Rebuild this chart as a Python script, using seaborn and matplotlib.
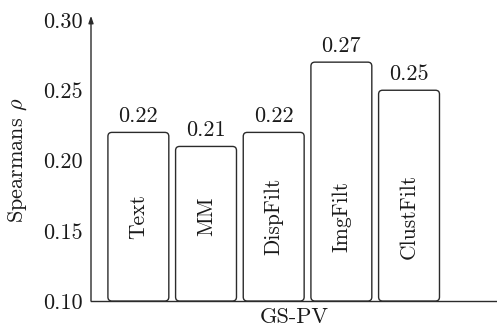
import matplotlib
matplotlib.use("Agg")
import matplotlib.pyplot as plt
from matplotlib.patches import FancyBboxPatch
import seaborn as sns
import pandas as pd

methods = ["Text", "MM", "DispFilt", "ImgFilt", "ClustFilt"]
spearman = [0.22, 0.21, 0.22, 0.27, 0.25]
group_label = "GS-PV"
y_ticks = [0.10, 0.15, 0.20, 0.25, 0.30]

sns.set_theme(style="white")
plt.rcParams["font.family"] = ["cmr10", "DejaVu Serif"]
plt.rcParams["mathtext.fontset"] = "cm"
plt.rcParams["axes.formatter.use_mathtext"] = True

df = pd.DataFrame({"method": methods, "rho": spearman})

W, H = 497, 327
fig = plt.figure(figsize=(W / 100, H / 100), dpi=100)
ax = fig.add_axes([91 / W, 26 / H, (497 - 91) / W, (301 - 20) / H])

sns.barplot(data=df, x="method", y="rho", ax=ax, color="white", width=0.9)

ax.set_xlim(-0.70, 5.30)
ax.set_ylim(0.10, 0.30)
base = 0.10
edge = "#2b2b2b"
ink = "#1a1a1a"

# swap the plain bars for rounded boxes that start at the axis floor
x_px_per_unit = (497 - 91) / 6.0
y_px_per_unit = (301 - 20) / 0.20
aspect = x_px_per_unit / y_px_per_unit
for patch, val in zip(list(ax.patches), spearman):
    x0 = patch.get_x()
    w = patch.get_width()
    patch.remove()
    box = FancyBboxPatch((x0, base), w, val - base,
                         boxstyle=f"round,pad=0,rounding_size={4 / x_px_per_unit}",
                         mutation_aspect=aspect,
                         facecolor="white", edgecolor=edge, linewidth=1.0,
                         clip_on=False, zorder=3)
    ax.add_patch(box)
    ax.text(x0 + w / 2, val + 0.0045, f"{val:.2f}", ha="center", va="bottom",
            fontsize=16, color=ink)

# category names written vertically inside the bars
for i, name in enumerate(methods):
    ax.text(i, 0.16, name, rotation=90, ha="center", va="center",
            fontsize=15.5, color=ink, zorder=4)

ax.set_xticks([])
ax.set_yticks(y_ticks)
ax.set_yticklabels([f"{t:.2f}" for t in y_ticks])
ax.tick_params(axis="y", length=0, pad=6, labelsize=16, colors=ink)
ax.set_xlabel(group_label, fontsize=16, color=ink, labelpad=5)
ax.set_ylabel(r"Spearmans $\rho$", fontsize=16, color=ink, labelpad=10)

for s in ["top", "right", "left"]:
    ax.spines[s].set_visible(False)
ax.spines["bottom"].set_color(edge)
ax.spines["bottom"].set_linewidth(1.0)

# y axis drawn as an arrow
ax.annotate("", xy=(0, 1.015), xytext=(0, 0), xycoords="axes fraction",
            arrowprops=dict(arrowstyle="-|>,head_length=0.35,head_width=0.12",
                            color=edge, lw=1.0, shrinkA=0, shrinkB=0))

fig.savefig("out.png", dpi=100)
